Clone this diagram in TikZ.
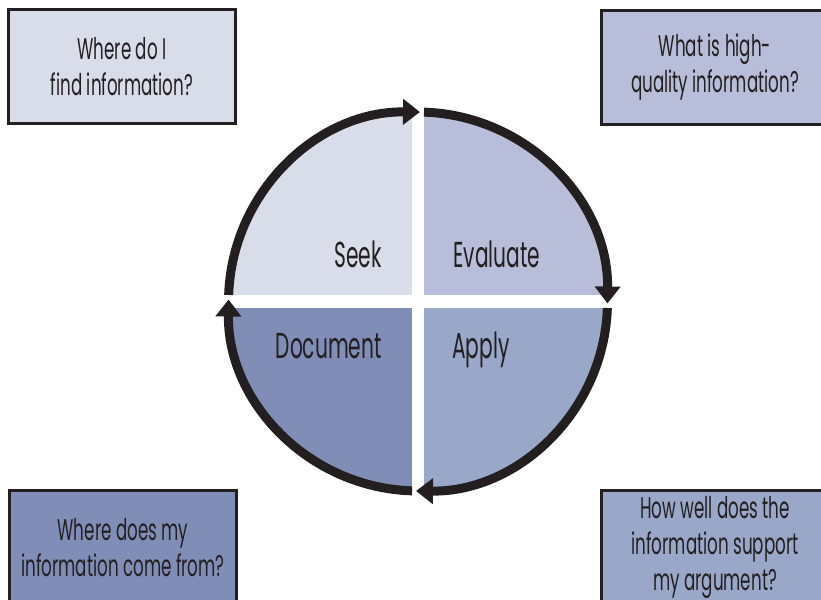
\documentclass[tikz,border=0pt]{standalone}
\usepackage{fontspec}
\setmainfont{Poppins}[FakeStretch=0.56]
\usepackage{tikz}
\usetikzlibrary{arrows.meta,positioning,calc}
\definecolor{seekfill}{HTML}{D9DDEA}
\definecolor{evalfill}{HTML}{B8BED9}
\definecolor{applyfill}{HTML}{99A7C8}
\definecolor{docfill}{HTML}{7F8DB7}
\definecolor{ink}{HTML}{231F20}
\tikzstyle{qbox}=[draw=ink, line width=1.7pt, text=ink, align=center,
                minimum width=4.56cm, minimum height=2.3cm, inner sep=0pt,
                font=\fontsize{17}{20.5}\selectfont]
\tikzstyle{qlabel}=[inner sep=0pt, text=ink, font=\fontsize{20.5}{24}\selectfont]
\tikzstyle{ring}=[draw=ink, line width=0.18cm,
                -{Triangle[length=0.34cm, width=0.5cm]}]

\begin{document}
\begin{tikzpicture}[x=0.02cm, y=0.02cm]
\path[use as bounding box] (0,0) rectangle (821,599);
\coordinate (c) at (418,297.5);
% quadrants
\begin{scope}
  \clip (c) circle[radius=3.79cm];
  \fill[seekfill]  ($(c)+(-6,6.5)$)  rectangle ++(-200,200);
  \fill[evalfill]  ($(c)+(6,6.5)$)   rectangle ++(200,200);
  \fill[applyfill] ($(c)+(6,-6.5)$)  rectangle ++(200,-200);
  \fill[docfill]   ($(c)+(-6,-6.5)$) rectangle ++(-200,-200);
\end{scope}
% cycle arrows
\draw[ring] ($(c)+(178.03:3.79cm)$) arc[start angle=178.03, end angle=89.4, radius=3.79cm];
\draw[ring] ($(c)+(88.19:3.79cm)$) arc[start angle=88.19, end angle=-0.6, radius=3.79cm];
\draw[ring] ($(c)+(-1.97:3.79cm)$) arc[start angle=-1.97, end angle=-90.6, radius=3.79cm];
\draw[ring] ($(c)+(268.19:3.79cm)$) arc[start angle=268.19, end angle=179.4, radius=3.79cm];
% stages
\node[qlabel, anchor=base east] (seek) at (382,332) {Seek};
\node[qlabel, anchor=base west] (evaluate) at (453,332) {Evaluate};
\node[qlabel, anchor=base east] (document) at (382,241) {Document};
\node[qlabel, anchor=base west] (apply) at (452,241) {Apply};
% questions
\node[qbox, fill=seekfill] (findq) at (122,532.5) {Where do I\\find information?};
\node[qbox, fill=evalfill] (qualityq) at (715,531.5) {What is high-\\quality information?};
\node[qbox, fill=docfill] (sourceq) at (123,51.5) {Where does my\\information come from?};
\node[qbox, fill=applyfill] (supportq) at (715,51.5) {How well does the\\information support\\my argument?};
\end{tikzpicture}
\end{document}
